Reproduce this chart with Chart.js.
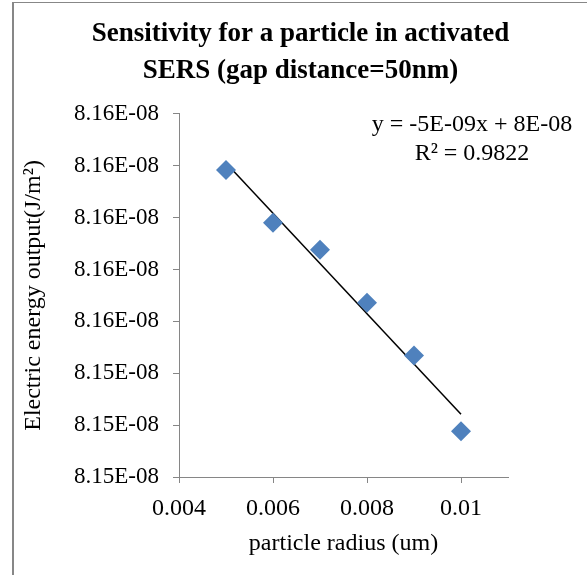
<!DOCTYPE html>
<html>
<head>
<meta charset="utf-8">
<script src="https://cdn.jsdelivr.net/npm/chart.js@4"></script>
<style>
  body { margin: 0; background: #fff; }
  #wrap { position: relative; width: 587px; height: 575px; overflow: hidden; }
  #frame { position: absolute; left: 12px; top: 2px; width: 700px; height: 700px;
           border-left: 2px solid #878787; border-top: 1px solid #878787; }
  canvas { position: absolute; left: 0; top: 0; }
</style>
</head>
<body>
<div id="wrap">
  <div id="frame"></div>
  <canvas id="myChart" width="587" height="575"></canvas>
</div>
<script>
const radius = [0.005, 0.006, 0.007, 0.008, 0.009, 0.010];
const energy = [8.15646e-8, 8.15595e-8, 8.15569e-8, 8.15518e-8, 8.15467e-8, 8.15394e-8];
const xTicks = [0.004, 0.006, 0.008, 0.010];
const xLabels = ["0.004", "0.006", "0.008", "0.01"];
const yTicks = [8.1535e-8, 8.1540e-8, 8.1545e-8, 8.1550e-8, 8.1555e-8, 8.1560e-8, 8.1565e-8, 8.1570e-8];
const yLabels = ["8.15E-08", "8.15E-08", "8.15E-08", "8.16E-08", "8.16E-08", "8.16E-08", "8.16E-08", "8.16E-08"];
const equation = ["y = -5E-09x + 8E-08", "R\u00B2 = 0.9822"];

// least squares trendline
const n = radius.length;
const mx = radius.reduce((a, b) => a + b, 0) / n;
const my = energy.reduce((a, b) => a + b, 0) / n;
let sxy = 0, sxx = 0;
for (let i = 0; i < n; i++) {
    sxy += (radius[i] - mx) * (energy[i] - my);
    sxx += (radius[i] - mx) * (radius[i] - mx);
}
const slope = sxy / sxx;
const x0 = radius[0], x1 = radius[n - 1];
const trend = [{x: x0, y: my + slope * (x0 - mx)}, {x: x1, y: my + slope * (x1 - mx)}];

const font = "'Liberation Serif', 'Times New Roman', serif";
const axisGray = "#868686";

const eqPlugin = {
    id: "eq",
    afterDraw(chart) {
        const ctx = chart.ctx;
        ctx.save();
        ctx.font = "24px " + font;
        ctx.fillStyle = "#000";
        ctx.textAlign = "center";
        ctx.textBaseline = "middle";
        ctx.fillText(equation[0], 472, 125);
        ctx.fillText(equation[1], 472, 154);
        ctx.restore();
    }
};

let myChart = new Chart("myChart", {
    type: "scatter",
    data: {
        datasets: [{
            label: "data",
            data: radius.map((r, i) => ({x: r, y: energy[i]})),
            pointStyle: "rectRot",
            pointRadius: 10,
            backgroundColor: "#4F81BD",
            borderColor: "#4F81BD",
            borderWidth: 0
        }, {
            label: "trend",
            type: "line",
            data: trend,
            borderColor: "#000",
            borderWidth: 1.5,
            pointRadius: 0,
            fill: false
        }]
    },
    options: {
        responsive: false,
        animation: false,
        devicePixelRatio: 1,
        layout: {padding: {left: 14, top: 3, right: 0, bottom: 0}},
        plugins: {
            legend: {display: false},
            tooltip: {enabled: false},
            title: {
                display: true,
                text: ["Sensitivity for a particle in activated", "SERS (gap distance=50nm)"],
                color: "#000",
                font: {family: font, size: 27, weight: "bold", lineHeight: 1.35},
                padding: {top: 13, bottom: 25}
            }
        },
        scales: {
            x: {
                type: "linear",
                min: 0.004,
                max: 0.011,
                afterBuildTicks: s => { s.ticks = xTicks.map(v => ({value: v})); },
                afterFit: s => { s.height = 98; },
                ticks: {
                    color: "#000",
                    font: {family: font, size: 24},
                    padding: 11,
                    callback: (v, i) => xLabels[i]
                },
                grid: {drawOnChartArea: false, tickLength: 6, color: axisGray},
                border: {color: axisGray},
                title: {
                    display: true,
                    text: "particle radius (um)",
                    color: "#000",
                    font: {family: font, size: 24},
                    padding: {top: 4, bottom: 17}
                }
            },
            y: {
                type: "linear",
                min: yTicks[0],
                max: yTicks[yTicks.length - 1],
                afterBuildTicks: s => { s.ticks = yTicks.map(v => ({value: v})); },
                afterFit: s => { s.width = 165; },
                ticks: {
                    color: "#000",
                    font: {family: font, size: 23},
                    padding: 14,
                    callback: (v, i) => yLabels[i]
                },
                grid: {drawOnChartArea: false, tickLength: 6, color: axisGray},
                border: {color: axisGray},
                title: {
                    display: true,
                    text: "Electric energy output(J/m\u00B2)",
                    color: "#000",
                    font: {family: font, size: 24},
                    padding: {top: 5, bottom: 4}
                }
            },
            yRight: {
                position: "right",
                display: true,
                afterFit: s => { s.width = 79; },
                ticks: {display: false},
                grid: {display: false},
                border: {display: false}
            }
        }
    },
    plugins: [eqPlugin]
});
</script>
</body>
</html>
